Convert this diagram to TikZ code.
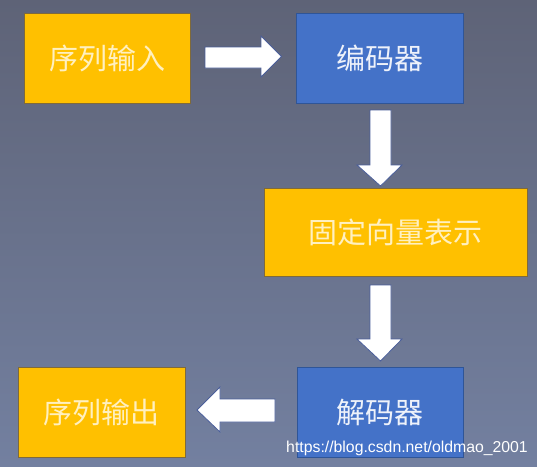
\documentclass[tikz,border=0pt]{standalone}
\usepackage{fontspec}
\newfontfamily\cjk{Noto Sans CJK SC}
\newfontfamily\wm{Liberation Sans}
\definecolor{bgtop}{HTML}{5E6377}
\definecolor{bgbot}{HTML}{7380A0}
\definecolor{boxyellow}{HTML}{FFC000}
\definecolor{boxyellowline}{HTML}{7F6A3A}
\definecolor{boxblue}{HTML}{4472C8}
\definecolor{boxblueline}{HTML}{2F5597}
\definecolor{arrowline}{HTML}{4A5E9A}
\definecolor{txtyellow}{HTML}{FFF0C0}
\definecolor{txtblue}{HTML}{EEF2FA}
\begin{document}
\begin{tikzpicture}[x=1pt,y=-1pt,
  ybox/.style={rectangle,draw=boxyellowline,line width=0.8pt,fill=boxyellow,
    text=txtyellow,font=\cjk\fontsize{29}{32}\selectfont,inner sep=0pt},
  bbox/.style={rectangle,draw=boxblueline,line width=0.8pt,fill=boxblue,
    text=txtblue,font=\cjk\fontsize{29}{32}\selectfont,inner sep=0pt},
  blockarrow/.style={draw=arrowline,line width=0.8pt,fill=white,line join=miter}]
\useasboundingbox (0,0) rectangle (537,466);
\shade[top color=bgtop,bottom color=bgbot] (0,0) rectangle (537,466);
\node[ybox,minimum width=166pt,minimum height=90pt] (in) at (107.5,58.5) {序列输入};
\node[bbox,minimum width=167pt,minimum height=90pt] (enc) at (379.5,58) {编码器};
\node[ybox,minimum width=263pt,minimum height=88pt] (vec) at (395.5,232) {固定向量表示};
\node[bbox,minimum width=166pt,minimum height=90pt] (dec) at (380,412) {解码器};
\node[ybox,minimum width=167pt,minimum height=90pt] (out) at (101.5,412) {序列输出};
% block arrows
\draw[blockarrow] (205,47) -- (261,47) -- (261,36) -- (281.5,56.5) -- (261,77) -- (261,68) -- (205,68) -- cycle;
\draw[blockarrow] (370,110) -- (391,110) -- (391,165) -- (402,165) -- (380.5,186) -- (357,165) -- (370,165) -- cycle;
\draw[blockarrow] (370,285) -- (391,285) -- (391,339) -- (402,339) -- (380.5,361) -- (357,339) -- (370,339) -- cycle;
\draw[blockarrow] (275,399) -- (220,399) -- (220,387) -- (197,410) -- (220,432) -- (220,422) -- (275,422) -- cycle;
\node[anchor=base east,text=white,font=\wm\fontsize{15.8}{18}\selectfont,inner sep=0pt] (wmk) at (528,452) {https://blog.csdn.net/oldmao\_2001};
\end{tikzpicture}
\end{document}
